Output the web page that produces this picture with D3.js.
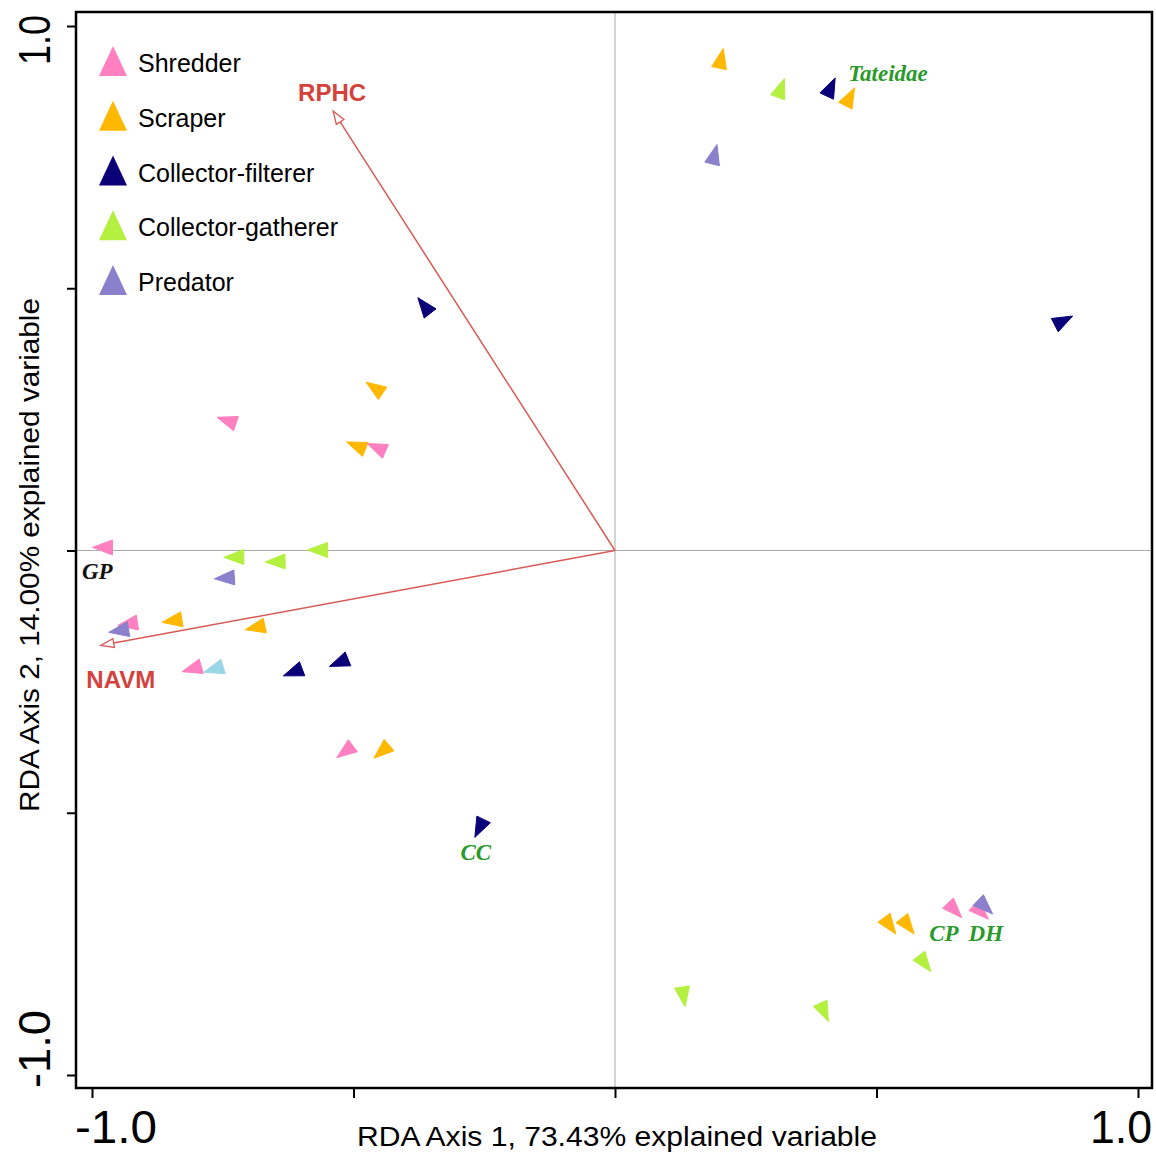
<!DOCTYPE html>
<html>
<head>
<meta charset="utf-8">
<script src="https://cdn.jsdelivr.net/npm/d3@7"></script>
<style>
  body { margin: 0; background: #fff; }
  svg { display: block; }
</style>
</head>
<body>
<div id="chart"></div>
<script>
// functional feeding groups (last one has no legend entry)
const groups = ["Shredder", "Scraper", "Collector-filterer", "Collector-gatherer", "Predator", "Other"];
const groupColors = ["#ff80c0", "#ffb800", "#0a0078", "#b4f040", "#8a80cc", "#9ad6e6"];
const legendGroups = groups.slice(0, 5);

// species scores on RDA axis 1 / axis 2
const speciesGroup = [
  1, 3, 2, 1, 4, 2,
  2, 1, 0, 1, 0,
  0, 3, 3, 3, 4,
  0, 4, 1, 1, 0, 5, 2, 2,
  0, 1, 2,
  1, 1, 0, 0, 4, 3,
  3, 3
];
const speciesX = [
  0.207, 0.324, 0.421, 0.458, 0.195, 0.875,
  -0.377, -0.476, -0.761, -0.513, -0.474,
  -0.999, -0.748, -0.669, -0.588, -0.766,
  -0.951, -0.968, -0.866, -0.707, -0.828, -0.786, -0.634, -0.546,
  -0.532, -0.461, -0.268,
  0.537, 0.572, 0.663, 0.714, 0.722, 0.604,
  0.134, 0.408
];
const speciesY = [
  0.957, 0.900, 0.901, 0.882, 0.774, 0.447,
  0.482, 0.321, 0.254, 0.207, 0.204,
  0.006, -0.013, -0.022, 0.001, -0.054,
  -0.143, -0.156, -0.137, -0.151, -0.231, -0.232, -0.239, -0.221,
  -0.395, -0.396, -0.547,
  -0.731, -0.731, -0.700, -0.703, -0.693, -0.803,
  -0.870, -0.898
];

// environmental variables (biplot arrows)
const envNames = ["RPHC", "NAVM"];
const envX = [-0.539, -0.983];
const envY = [0.838, -0.181];
const envLabelX = [-0.541, -0.945];
const envLabelY = [0.874, -0.246];

// site / taxon annotations
const noteNames = ["Tateidae", "CC", "CP", "DH", "GP"];
const noteX = [0.522, -0.266, 0.629, 0.709, -0.990];
const noteY = [0.910, -0.576, -0.731, -0.731, -0.040];
const noteColors = ["#2a9a2a", "#2a9a2a", "#2a9a2a", "#2a9a2a", "#111"];

const xTicks = [-1, -0.5, 0, 0.5, 1];
const yTicks = [-1, -0.5, 0, 0.5, 1];

const width = 1156, height = 1153;
const frame = { left: 76, top: 12, right: 1152, bottom: 1088 };

const svg = d3.select("#chart").append("svg")
  .attr("width", width)
  .attr("height", height);

const x = d3.scaleLinear().domain([-1, 1]).range([92, 1138]);
const y = d3.scaleLinear().domain([-1, 1]).range([1075, 26]);
const fmt = v => d3.format(".1f")(v).replace("\u2212", "-");

// zero lines
svg.append("line")
  .attr("x1", frame.left).attr("x2", frame.right)
  .attr("y1", y(0)).attr("y2", y(0))
  .attr("stroke", "#aaa").attr("stroke-width", 1);
svg.append("line")
  .attr("x1", x(0)).attr("x2", x(0))
  .attr("y1", frame.top).attr("y2", frame.bottom)
  .attr("stroke", "#aaa").attr("stroke-width", 1);

// axes (ticks only, labels drawn separately)
const xAxis = svg.append("g")
  .attr("transform", `translate(0,${frame.bottom})`)
  .call(d3.axisBottom(x).tickValues(xTicks).tickSize(10).tickSizeOuter(0).tickFormat(""));
const yAxis = svg.append("g")
  .attr("transform", `translate(${frame.left},0)`)
  .call(d3.axisLeft(y).tickValues(yTicks).tickSize(9).tickSizeOuter(0).tickFormat(""));
[xAxis, yAxis].forEach(a => {
  a.select(".domain").remove();
  a.selectAll(".tick line").attr("stroke", "#000").attr("stroke-width", 2);
});

svg.append("rect")
  .attr("x", frame.left).attr("y", frame.top)
  .attr("width", frame.right - frame.left)
  .attr("height", frame.bottom - frame.top)
  .attr("fill", "none").attr("stroke", "#000").attr("stroke-width", 2.5);

// end tick labels
const tickFont = "'Liberation Sans', Arial, sans-serif";
svg.append("text").attr("x", 75).attr("y", 1143)
  .attr("font-family", tickFont).attr("font-size", 46)
  .attr("textLength", 82).attr("lengthAdjust", "spacingAndGlyphs")
  .text(fmt(xTicks[0]));
svg.append("text").attr("x", 1090).attr("y", 1143)
  .attr("font-family", tickFont).attr("font-size", 46)
  .attr("textLength", 62).attr("lengthAdjust", "spacingAndGlyphs")
  .text(fmt(xTicks[4]));
svg.append("text")
  .attr("transform", "translate(50,65) rotate(-90)")
  .attr("font-family", tickFont).attr("font-size", 45)
  .attr("textLength", 50).attr("lengthAdjust", "spacingAndGlyphs")
  .text(fmt(yTicks[4]));
svg.append("text")
  .attr("transform", "translate(50,1088) rotate(-90)")
  .attr("font-family", tickFont).attr("font-size", 45)
  .attr("textLength", 78).attr("lengthAdjust", "spacingAndGlyphs")
  .text(fmt(yTicks[0]));

// axis titles
svg.append("text").attr("x", 357).attr("y", 1146)
  .attr("font-family", tickFont).attr("font-size", 27)
  .attr("textLength", 520).attr("lengthAdjust", "spacingAndGlyphs")
  .text("RDA Axis 1, 73.43% explained variable");
svg.append("text")
  .attr("transform", "translate(39,812) rotate(-90)")
  .attr("font-family", tickFont).attr("font-size", 27)
  .attr("textLength", 514).attr("lengthAdjust", "spacingAndGlyphs")
  .text("RDA Axis 2, 14.00% explained variable");

// biplot arrows
const arrowColor = "#d85a55";
envNames.forEach((name, i) => {
  const x0 = x(0), y0 = y(0), x1 = x(envX[i]), y1 = y(envY[i]);
  const a = Math.atan2(y1 - y0, x1 - x0);
  const L = 13, w = 4.5;
  const bx = x1 - L * Math.cos(a), by = y1 - L * Math.sin(a);
  svg.append("line")
    .attr("x1", x0).attr("y1", y0).attr("x2", bx).attr("y2", by)
    .attr("stroke", arrowColor).attr("stroke-width", 1.5);
  const head = [
    [x1, y1],
    [bx - w * Math.sin(a), by + w * Math.cos(a)],
    [bx + w * Math.sin(a), by - w * Math.cos(a)]
  ];
  svg.append("path")
    .attr("d", d3.line()(head) + "Z")
    .attr("fill", "#fff").attr("stroke", arrowColor).attr("stroke-width", 1.3);
  svg.append("text")
    .attr("x", x(envLabelX[i])).attr("y", y(envLabelY[i]))
    .attr("text-anchor", "middle").attr("dominant-baseline", "central")
    .attr("font-family", tickFont).attr("font-size", 24).attr("font-weight", "bold")
    .attr("fill", "#d4423c")
    .text(name);
});

// species as arrowheads pointing away from the origin
const headLen = 20, headHalf = 7.5;
svg.append("g").selectAll("path")
  .data(d3.range(speciesX.length))
  .join("path")
  .attr("d", i => {
    const tx = x(speciesX[i]), ty = y(speciesY[i]);
    const a = Math.atan2(ty - y(0), tx - x(0));
    const bx = tx - headLen * Math.cos(a), by = ty - headLen * Math.sin(a);
    return d3.line()([
      [tx, ty],
      [bx - headHalf * Math.sin(a), by + headHalf * Math.cos(a)],
      [bx + headHalf * Math.sin(a), by - headHalf * Math.cos(a)]
    ]) + "Z";
  })
  .attr("fill", i => groupColors[speciesGroup[i]])
  .attr("stroke", i => groupColors[speciesGroup[i]])
  .attr("stroke-width", 1)
  .attr("stroke-linejoin", "round");

// annotations
svg.append("g").selectAll("text")
  .data(noteNames)
  .join("text")
  .attr("x", (d, i) => x(noteX[i]))
  .attr("y", (d, i) => y(noteY[i]))
  .attr("text-anchor", "middle").attr("dominant-baseline", "central")
  .attr("font-family", "'Liberation Serif', 'Times New Roman', serif")
  .attr("font-size", 23).attr("font-style", "italic").attr("font-weight", "bold")
  .attr("fill", (d, i) => noteColors[i])
  .text(d => d);

// legend
const legend = svg.append("g").attr("transform", "translate(113,63)");
legendGroups.forEach((g, i) => {
  const row = legend.append("g").attr("transform", `translate(0,${i * 54.75})`);
  row.append("path")
    .attr("d", d3.line()([[0, -17], [14, 13], [-14, 13]]) + "Z")
    .attr("fill", groupColors[i]);
  row.append("text")
    .attr("x", 25).attr("y", 0)
    .attr("dominant-baseline", "central")
    .attr("font-family", tickFont).attr("font-size", 25)
    .text(g);
});
</script>
</body>
</html>
